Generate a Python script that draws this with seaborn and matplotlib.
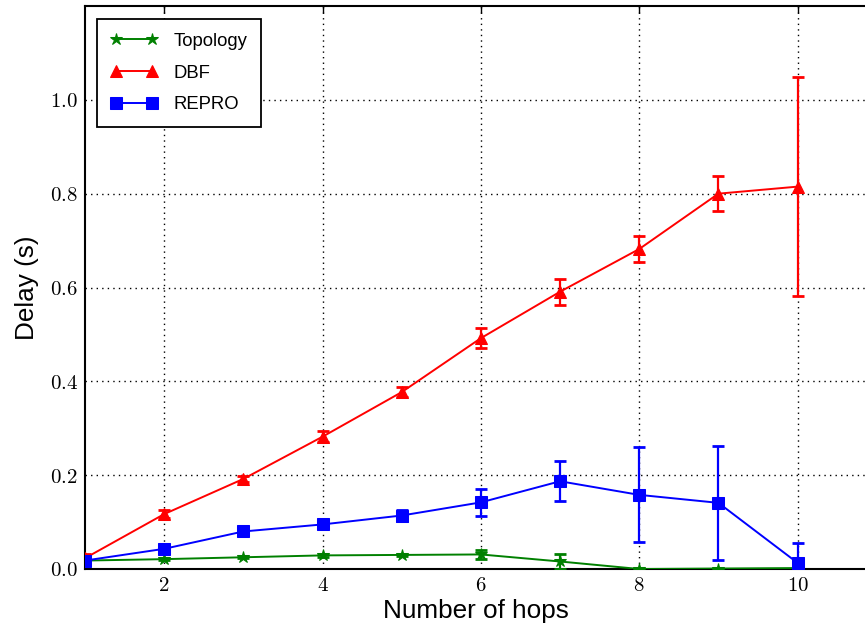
import matplotlib
matplotlib.use("Agg")
import matplotlib.pyplot as plt
import seaborn as sns
import pandas as pd
from matplotlib.ticker import FuncFormatter

hops = [1, 2, 3, 4, 5, 6, 7, 8, 9, 10]
topology = [0.018, 0.021, 0.025, 0.029, 0.030, 0.031, 0.016, 0.000, 0.001, 0.002]
topology_err = [0.002, 0.002, 0.002, 0.003, 0.003, 0.009, 0.017, 0.002, 0.002, 0.002]
dbf = [0.023, 0.117, 0.192, 0.282, 0.377, 0.492, 0.591, 0.682, 0.800, 0.815]
dbf_err = [0.008, 0.008, 0.006, 0.012, 0.011, 0.022, 0.028, 0.028, 0.038, 0.233]
repro = [0.018, 0.043, 0.080, 0.095, 0.114, 0.142, 0.187, 0.158, 0.141, 0.013]
repro_err = [0.004, 0.004, 0.004, 0.007, 0.011, 0.029, 0.043, 0.101, 0.121, 0.042]

series = [
    ("Topology", topology, topology_err, "green", "*", 9),
    ("DBF", dbf, dbf_err, "red", "^", 9),
    ("REPRO", repro, repro_err, "blue", "s", 8),
]

sns.set_style("white")
plt.rcParams["font.family"] = ["Liberation Sans", "DejaVu Sans"]
plt.rcParams["mathtext.fontset"] = "cm"
for k in ["text.color", "axes.labelcolor", "xtick.color", "ytick.color"]:
    plt.rcParams[k] = "black"

fig = plt.figure(figsize=(8.65, 6.32), dpi=100)
ax = fig.add_axes([85 / 865, 1 - 569 / 632, 1 - 85 / 865 + 0.002, (569 - 6) / 632])

for name, vals, errs, color, marker, ms in series:
    df = pd.DataFrame({"hops": hops, "delay": vals})
    sns.lineplot(data=df, x="hops", y="delay", ax=ax, color=color, marker=marker,
                 markersize=ms, markeredgecolor=color, linewidth=1.4, label=name,
                 zorder=3)
    ax.errorbar(hops, vals, yerr=errs, fmt="none", ecolor=color, elinewidth=1.6,
                capsize=4.5, capthick=2, zorder=3)

ax.set_xlim(1, 1 + 780 / 79)
ax.set_ylim(0, 1.2)
ax.set_xticks([2, 4, 6, 8, 10])
ax.set_yticks([0.0, 0.2, 0.4, 0.6, 0.8, 1.0])
ax.xaxis.set_major_formatter(FuncFormatter(lambda v, p: r"$%d$" % v))
ax.yaxis.set_major_formatter(FuncFormatter(lambda v, p: r"$%.1f$" % v))
ax.tick_params(axis="both", which="major", direction="in", length=5, width=1,
               labelsize=15, top=True, right=False, color="black", pad=5)
ax.grid(True, linestyle=(0, (1, 3)), color="black", linewidth=1, zorder=0)
for side in ["left", "bottom", "top"]:
    ax.spines[side].set_color("black")
    ax.spines[side].set_linewidth(1.5)
ax.spines["right"].set_visible(False)

ax.set_xlabel("Number of hops", fontsize=18.8, labelpad=3)
ax.set_ylabel("Delay (s)", fontsize=18.8, labelpad=8)

leg = ax.legend(loc="upper left", fontsize=13.3, numpoints=2, handlelength=2.5,
                borderpad=0.75, labelspacing=0.8, handletextpad=0.9,
                fancybox=False, framealpha=1, edgecolor="black",
                bbox_to_anchor=(12 / 780, 1 - 13 / 563), borderaxespad=0)
leg.get_frame().set_linewidth(1.3)

fig.savefig("out.png", dpi=100)
